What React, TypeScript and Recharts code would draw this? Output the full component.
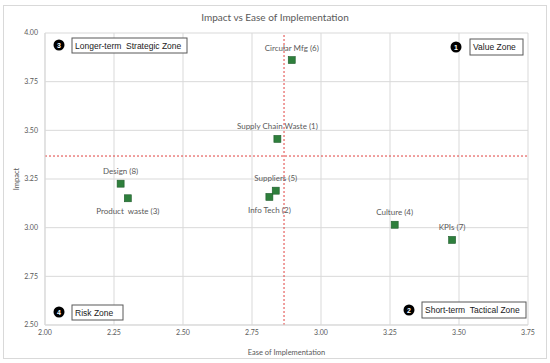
import React from 'react';
import {
  ScatterChart,
  Scatter,
  XAxis,
  YAxis,
  CartesianGrid,
  ReferenceLine,
  ReferenceDot,
} from 'recharts';

// ---- data ----
const categories = [
  'Supply Chain Waste (1)',
  'Info Tech (2)',
  'Product  waste (3)',
  'Culture (4)',
  'Suppliers (5)',
  'Circular Mfg (6)',
  'KPIs (7)',
  'Design (8)',
];
const easeValues = [2.842, 2.813, 2.3, 3.267, 2.836, 2.894, 3.475, 2.274];
const impactValues = [3.456, 3.158, 3.151, 3.015, 3.19, 3.861, 2.937, 3.226];
const labelsBelow = ['Product  waste (3)', 'Info Tech (2)'];

const xTicks = [2, 2.25, 2.5, 2.75, 3, 3.25, 3.5, 3.75];
const yTicks = [2.5, 2.75, 3, 3.25, 3.5, 3.75, 4];

const easeThreshold = 2.866;
const impactThreshold = 3.368;

const zoneNumbers = ['1', '2', '3', '4'];
const zoneNames = ['Value Zone', 'Short-term  Tactical Zone', 'Longer-term  Strategic Zone', 'Risk Zone'];
const zoneCornerX = [3.75, 3.75, 2, 2];
const zoneCornerY = [4, 2.5, 4, 2.5];

// ---- layout for zone badges (pixel offsets from plot corner) ----
const zoneLayout = [
  { cdx: -72, cdy: 14, bx: -58, by: 6, bw: 53, bh: 16 },
  { cdx: -119, cdy: -15, bx: -106, by: -23, bw: 104, bh: 16 },
  { cdx: 14, cdy: 12, bx: 27, by: 5, bw: 115, bh: 15 },
  { cdx: 14, cdy: -13, bx: 27, by: -20, bw: 51, bh: 15 },
];

const data = categories.map((name, i) => ({ name, ease: easeValues[i], impact: impactValues[i] }));

const FONT = 'Lato, "Open Sans", sans-serif';
const GRID = '#d9d9d9';
const TEXT = '#595959';

const PointShape = (props: any) => {
  const { cx, cy, payload } = props;
  const below = labelsBelow.includes(payload.name);
  return (
    <g>
      <rect x={cx - 3.5} y={cy - 3.5} width={7} height={7} fill="#2E7F3C" stroke="#1E5C2B" strokeWidth={0.6} />
      <text
        x={cx}
        y={below ? cy + 13 : cy - 12.5}
        textAnchor="middle"
        dominantBaseline="central"
        fontSize={8}
        fill={TEXT}
        fontFamily={FONT}
        style={{ whiteSpace: 'pre' }}
      >
        {payload.name}
      </text>
    </g>
  );
};

const makeZoneShape = (i: number) => (props: any) => {
  const { cx, cy } = props;
  const L = zoneLayout[i];
  return (
    <g>
      <circle cx={cx + L.cdx} cy={cy + L.cdy} r={5.5} fill="#000" />
      <text
        x={cx + L.cdx}
        y={cy + L.cdy}
        textAnchor="middle"
        dominantBaseline="central"
        fontSize={7}
        fontWeight="bold"
        fill="#fff"
        fontFamily="Liberation Sans, Arial, sans-serif"
      >
        {zoneNumbers[i]}
      </text>
      <rect x={cx + L.bx} y={cy + L.by} width={L.bw} height={L.bh} fill="#fff" stroke="#595959" strokeWidth={1} />
      <text
        x={cx + L.bx + 3}
        y={cy + L.by + L.bh / 2}
        dominantBaseline="central"
        fontSize={8.5}
        fill="#1a1a1a"
        fontFamily="Liberation Sans, Arial, sans-serif"
        style={{ whiteSpace: 'pre' }}
      >
        {zoneNames[i]}
      </text>
    </g>
  );
};

export default function App() {
  return (
    <div style={{ position: 'absolute', left: 0, top: 0, width: 550, height: 363, background: '#fff' }}>
      <div
        style={{
          position: 'absolute',
          left: 3,
          top: 5,
          width: 542,
          height: 352,
          border: '1px solid #d9d9d9',
        }}
      />
      <div
        style={{
          position: 'absolute',
          left: 0,
          top: 10,
          width: 550,
          textAlign: 'center',
          fontFamily: FONT,
          fontSize: 10,
          color: TEXT,
          lineHeight: '14px',
        }}
      >
        Impact vs Ease of Implementation
      </div>
      <div style={{ position: 'absolute', left: 0, top: 0 }}>
        <ScatterChart width={550} height={363} margin={{ top: 33, right: 22, bottom: 8, left: 5 }}>
          <CartesianGrid stroke={GRID} strokeWidth={1} />
          <XAxis
            type="number"
            dataKey="ease"
            domain={[2, 3.75]}
            ticks={xTicks}
            tickFormatter={(v: number) => v.toFixed(2)}
            height={30}
            tickSize={0}
            tickMargin={5}
            tickLine={false}
            axisLine={{ stroke: GRID }}
            tick={{ fontSize: 7, fill: TEXT, fontFamily: FONT }}
            label={{
              value: 'Ease of Implementation',
              position: 'insideBottom',
              offset: 0,
              style: { fontSize: 7.5, fill: TEXT, fontFamily: FONT },
            }}
            allowDataOverflow
          />
          <YAxis
            type="number"
            dataKey="impact"
            domain={[2.5, 4]}
            ticks={yTicks}
            tickFormatter={(v: number) => v.toFixed(2)}
            width={40}
            tickSize={0}
            tickMargin={7}
            tickLine={false}
            axisLine={{ stroke: GRID }}
            tick={{ fontSize: 7, fill: TEXT, fontFamily: FONT }}
            label={{
              value: 'Impact',
              angle: -90,
              position: 'insideLeft',
              offset: 11,
              style: { fontSize: 7.5, fill: TEXT, fontFamily: FONT, textAnchor: 'middle' },
            }}
            allowDataOverflow
          />
          <ReferenceLine x={easeThreshold} stroke="#E0403F" strokeDasharray="2 2" strokeWidth={1} />
          <ReferenceLine y={impactThreshold} stroke="#E0403F" strokeDasharray="2 2" strokeWidth={1} />
          <Scatter data={data} shape={PointShape} isAnimationActive={false} />
          {zoneNumbers.map((z, i) => (
            <ReferenceDot
              key={z}
              x={zoneCornerX[i]}
              y={zoneCornerY[i]}
              ifOverflow="visible"
              shape={makeZoneShape(i)}
            />
          ))}
        </ScatterChart>
      </div>
    </div>
  );
}
